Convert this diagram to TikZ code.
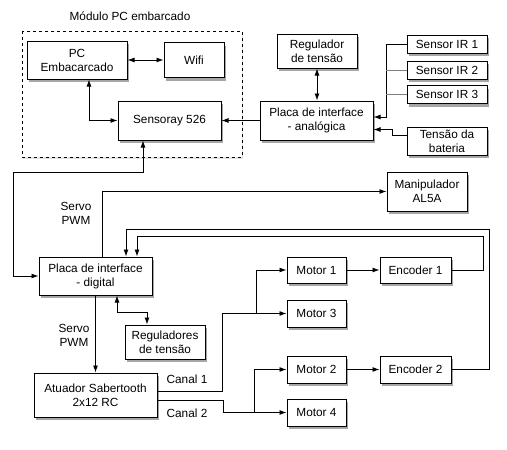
\documentclass[tikz,border=0pt]{standalone}
\usepackage{fontspec}
\setmainfont{Liberation Sans}
\usepackage{tikz}
\usetikzlibrary{arrows.meta, shadows, calc, positioning}

\begin{document}
\begin{tikzpicture}[x=1pt, y=-1pt, >={Latex[length=7pt,width=5pt]}, line width=0.9pt,
    bloco/.style={draw, fill=white, inner sep=0pt, align=center, line width=1pt, font=\fontsize{11.8}{14}\selectfont,
        drop shadow={shadow xshift=2pt, shadow yshift=-3pt, fill=black, opacity=0.35}},
    rotulo/.style={align=center, font=\fontsize{11.8}{14}\selectfont}]

        \useasboundingbox (0,0) rectangle (507,450);

        % Modulo PC embarcado
        \draw[dashed, fill=white, line width=0.8pt, drop shadow={shadow xshift=1pt, shadow yshift=-2pt, fill=black, opacity=0.1}] (22,31) rectangle (242,157);
        \node[rotulo] (titulo) at (130,16) {Módulo PC embarcado};
        \node[bloco, minimum width=100pt, minimum height=38pt] (pc) at (77,60) {PC\\Embacarcado};
        \node[bloco, minimum width=60pt, minimum height=35pt] (wifi) at (194,60) {Wifi};
        \node[bloco, minimum width=103pt, minimum height=39pt] (sensoray) at (169.5,120.5) {Sensoray 526};

        % Placa analogica e sensores
        \node[bloco, minimum width=80pt, minimum height=34pt] (reg) at (317,51) {Regulador\\de tensão};
        \node[bloco, minimum width=113pt, minimum height=39pt] (analog) at (316.5,120.5) {Placa de interface\\- analógica};
        \node[bloco, minimum width=80pt, minimum height=18pt] (ir1) at (447,44) {Sensor IR 1};
        \node[bloco, minimum width=80pt, minimum height=18pt] (ir2) at (447,70) {Sensor IR 2};
        \node[bloco, minimum width=80pt, minimum height=18pt] (ir3) at (447,94.5) {Sensor IR 3};
        \node[bloco, minimum width=80pt, minimum height=28pt] (bat) at (447,141) {Tensão da\\bateria};
        \node[bloco, minimum width=80pt, minimum height=39pt] (manip) at (427,191.5) {Manipulador\\AL5A};

        % Placa digital, motores e encoders
        \node[bloco, minimum width=113pt, minimum height=38pt] (digital) at (95.5,276) {Placa de interface\\- digital};
        \node[bloco, minimum width=80pt, minimum height=34pt] (regs) at (165,342) {Reguladores\\de tensão};
        \node[bloco, minimum width=123pt, minimum height=44pt] (sabertooth) at (95.5,395) {Atuador Sabertooth\\2x12 RC};
        \node[bloco, minimum width=59pt, minimum height=26pt] (motor1) at (316.5,270) {Motor 1};
        \node[bloco, minimum width=71pt, minimum height=26pt] (enc1) at (415.5,270) {Encoder 1};
        \node[bloco, minimum width=59pt, minimum height=27pt] (motor3) at (316.5,313.5) {Motor 3};
        \node[bloco, minimum width=59pt, minimum height=27pt] (motor2) at (316.5,369.5) {Motor 2};
        \node[bloco, minimum width=71pt, minimum height=27pt] (enc2) at (415.5,369.5) {Encoder 2};
        \node[bloco, minimum width=59pt, minimum height=27pt] (motor4) at (316.5,412.5) {Motor 4};

        % Rotulos
        \node[rotulo] (pwm1) at (76,213) {Servo\\PWM};
        \node[rotulo] (pwm2) at (74,335) {Servo\\PWM};
        \node[rotulo] (canal1) at (187,379) {Canal 1};
        \node[rotulo] (canal2) at (187,413) {Canal 2};

        % Pontos de juncao
        \coordinate (barra) at (386,117);
        \coordinate (c1) at (256,313.5);
        \coordinate (c2) at (254,412.5);

        % Ligacoes do modulo PC
        \draw[<->] (pc) -- (wifi);
        \draw[<->] ([xshift=12pt]pc.south) |- (sensoray);
        \draw[->] (analog) -- (sensoray);
        \draw[<->] (reg.south) -- (reg.south |- analog.north);
        \draw[<->] ([xshift=-26.5pt]sensoray.south) |- (13,172) |- (digital.west); % Sensoray - placa digital

        % Sensores
        \draw[->] (ir1) -| (barra) -- (barra -| analog.east);
        \draw[gray] (ir2) -- (ir2 -| barra);
        \draw[gray] (ir3) -- (ir3 -| barra);
        \draw[->] ([yshift=6pt]bat.west) -- (392,135) |- ([yshift=-9pt]analog.east);

        % Placa digital
        \draw[->] ([xshift=6.5pt]digital.north) |- (manip);
        \draw[->] (enc2) -| (489,229) -| ([xshift=30.5pt]digital.north); % Encoder 2
        \draw[->] (enc1) -| (483,236) -| ([xshift=41.5pt]digital.north); % Encoder 1
        \draw[->] (digital) -- (sabertooth);
        \draw[<->] ([xshift=21.5pt]digital.south) -- ++(0,17) -| ([xshift=-18pt]regs.north);

        % Canais do Sabertooth
        \draw[->] ([yshift=4pt]sabertooth.east) -| (222,313.5) -- (motor3); % Canal 1
        \draw[->] (c1) |- (motor1);
        \draw[->] ([yshift=-5pt]sabertooth.east) -| (223,412.5) -- (motor4); % Canal 2
        \draw[->] (c2) |- (motor2);
        \draw[->] (motor1) -- (enc1);
        \draw[->] (motor2) -- (enc2);

\end{tikzpicture}
\end{document}
